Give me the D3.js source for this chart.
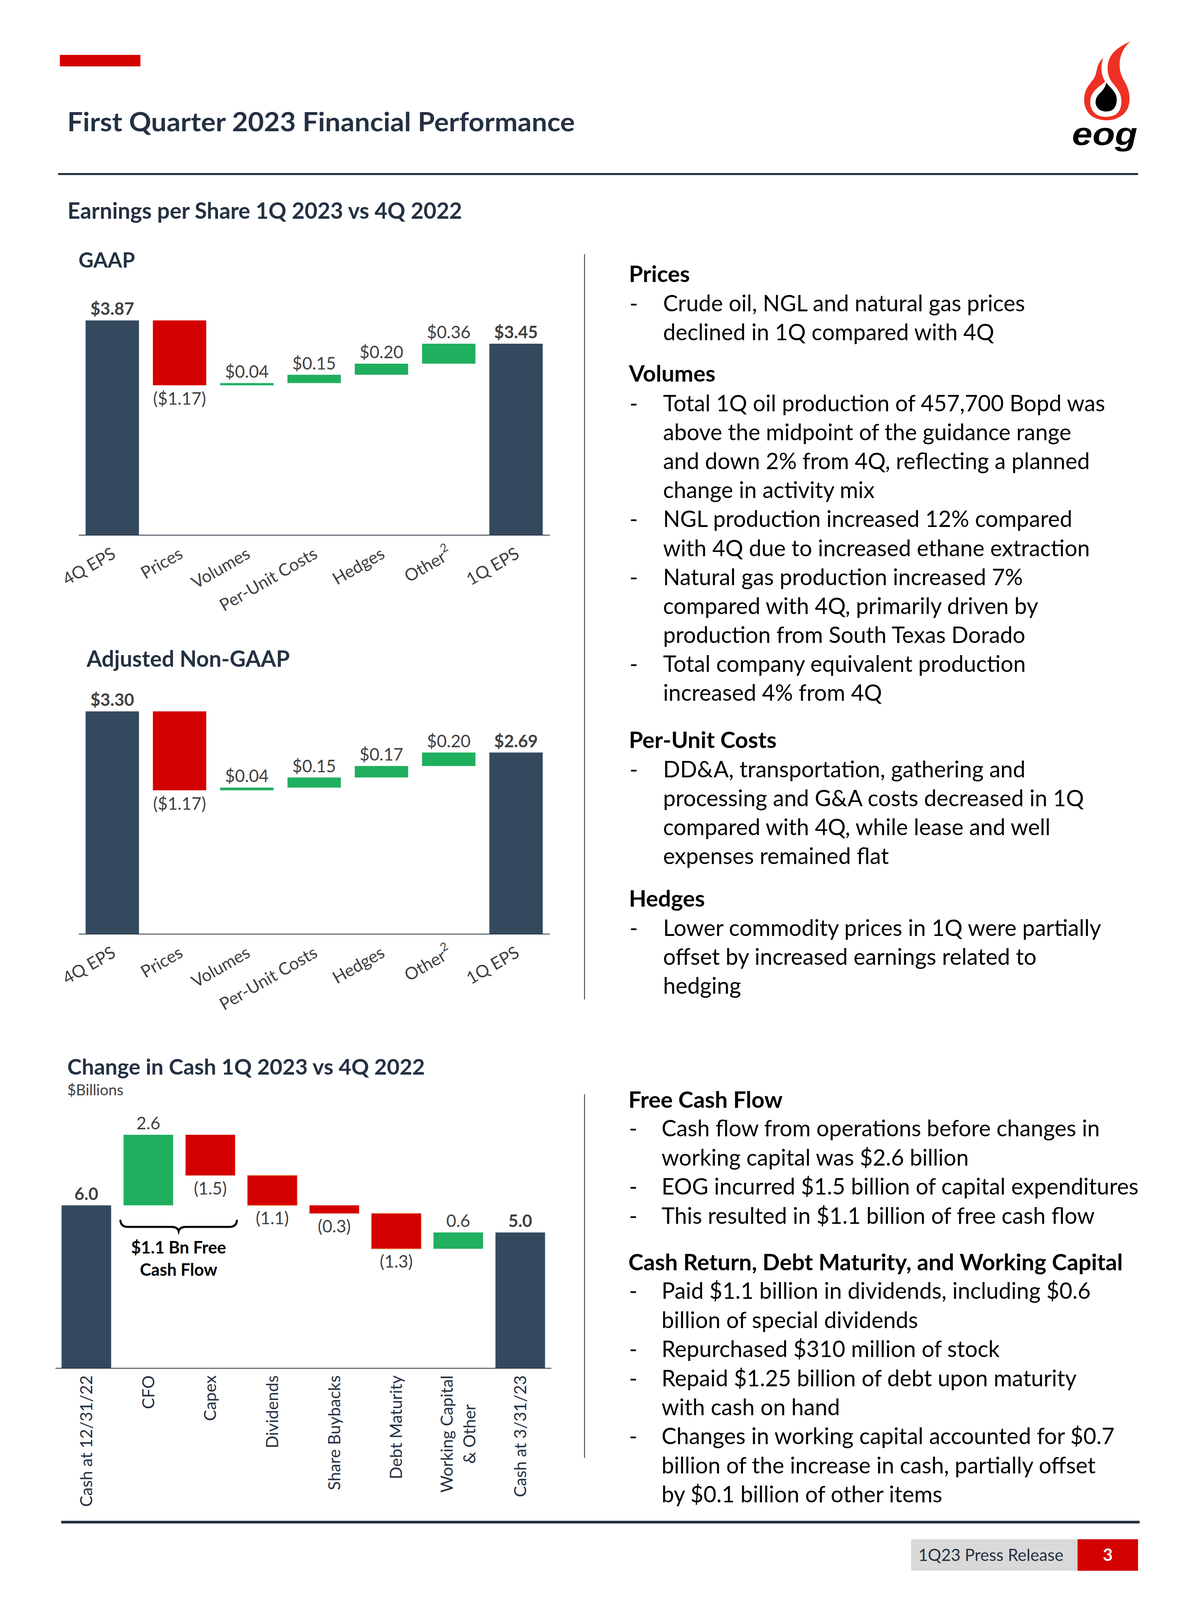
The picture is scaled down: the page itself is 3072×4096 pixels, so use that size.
<!DOCTYPE html>
<html><head><meta charset="utf-8">
<script src="https://cdn.jsdelivr.net/npm/d3@7"></script>
<style>html,body{margin:0;padding:0;background:#fff;overflow:hidden}svg{display:block}</style>
</head><body>
<svg id="c" width="3072" height="4096" xmlns="http://www.w3.org/2000/svg"></svg>
<script>
// ---------------- DATA ----------------
const epsCategories = ["4Q EPS","Prices","Volumes","Per-Unit Costs","Hedges","Other","1Q EPS"];
const epsSuperscripts = ["","","","","","2",""];
const epsKinds = ["total","delta","delta","delta","delta","delta","total"];
const gaapValues = [3.87,-1.17,0.04,0.15,0.20,0.36,3.45];
const gaapLabels = ["$3.87","($1.17)","$0.04","$0.15","$0.20","$0.36","$3.45"];
const adjValues = [3.30,-1.17,0.04,0.15,0.17,0.20,2.69];
const adjLabels = ["$3.30","($1.17)","$0.04","$0.15","$0.17","$0.20","$2.69"];

const cashCategories = [["Cash at 12/31/22"],["CFO"],["Capex"],["Dividends"],["Share Buybacks"],["Debt Maturity"],["Working Capital","& Other"],["Cash at 3/31/23"]];
const cashKinds = ["total","delta","delta","delta","delta","delta","delta","total"];
const cashValues = [6.0,2.6,-1.5,-1.1,-0.3,-1.3,0.6,5.0];
const cashLabels = ["6.0","2.6","(1.5)","(1.1)","(0.3)","(1.3)","0.6","5.0"];
const cashOutlined = [false,false,false,true,false,true,false,false];

const topHeadings = ["Prices","Volumes","Per-Unit Costs","Hedges"];
const topBullets = [
  [["Crude oil, NGL and natural gas prices","declined in 1Q compared with 4Q"]],
  [["Total 1Q oil production of 457,700 Bopd was","above the midpoint of the guidance range","and down 2% from 4Q, reflecting a planned","change in activity mix"],
   ["NGL production increased 12% compared","with 4Q due to increased ethane extraction"],
   ["Natural gas production increased 7%","compared with 4Q, primarily driven by","production from South Texas Dorado"],
   ["Total company equivalent production","increased 4% from 4Q"]],
  [["DD&A, transportation, gathering and","processing and G&A costs decreased in 1Q","compared with 4Q, while lease and well","expenses remained flat"]],
  [["Lower commodity prices in 1Q were partially","offset by increased earnings related to","hedging"]]
];
const bottomHeadings = ["Free Cash Flow","Cash Return, Debt Maturity, and Working Capital"];
const bottomBullets = [
  [["Cash flow from operations before changes in","working capital was $2.6 billion"],
   ["EOG incurred $1.5 billion of capital expenditures"],
   ["This resulted in $1.1 billion of free cash flow"]],
  [["Paid $1.1 billion in dividends, including $0.6","billion of special dividends"],
   ["Repurchased $310 million of stock"],
   ["Repaid $1.25 billion of debt upon maturity","with cash on hand"],
   ["Changes in working capital accounted for $0.7","billion of the increase in cash, partially offset","by $0.1 billion of other items"]]
];

// ---------------- STYLE ----------------
const FONT = "Lato, 'Open Sans', sans-serif";
const NAVY_TXT = "#243142", NAVY_BAR = "#34495E", RED = "#D40000", GREEN = "#1FAF5F", GREY_TXT = "#404040";
const BODY = 99.5, HEAD = 101, LAB = 76;

const svg = d3.select("#c");
const root = svg.append("g").attr("transform","scale(0.576)");  // work in reference pixels

function txt(p, x, y, s, o={}) {
  return p.append("text").attr("x",x).attr("y",y).text(s)
    .attr("font-family",FONT).attr("font-size",o.size||72)
    .attr("font-weight",o.weight||400).attr("fill",o.fill||"#000")
    .attr("text-anchor",o.anchor||"start");
}

// ---------------- HEADER ----------------
root.append("rect").attr("x",266).attr("y",244).attr("width",358).attr("height",51).attr("fill",RED);
txt(root,299,583,"First Quarter 2023 Financial Performance",{size:117,weight:700,fill:NAVY_TXT})
  .attr("textLength",2256).attr("lengthAdjust","spacingAndGlyphs");
root.append("rect").attr("x",258).attr("y",769).attr("width",4800).attr("height",9).attr("fill",NAVY_TXT);

// logo (drawn in a local 1568-per-600px frame)
const logo = root.append("g").attr("transform","translate(4600,150) scale(0.38265)");
logo.append("path").attr("fill","#EE3124").attr("d",
 "M790 282 C760 310 735 350 722 400 C712 445 705 490 680 525 C640 580 590 630 575 710 C560 800 580 890 650 950 C710 995 780 1008 850 1005 C950 1000 1030 950 1070 880 C1105 815 1105 720 1080 640 C1060 575 1020 530 1000 470 C975 400 978 320 1000 250 C1025 180 1065 120 1115 88 C1040 115 960 160 905 220 C870 260 855 300 850 330 L790 282 Z");
logo.append("path").attr("fill","#fff").attr("d",
 "M792 282 C778 320 770 370 772 420 C775 480 795 520 815 555 C770 600 690 640 655 720 C625 800 645 890 710 935 C770 975 870 975 935 940 C1000 900 1015 800 995 720 C975 650 920 600 885 550 C855 505 842 450 843 390 C845 320 870 265 910 220 C960 165 1040 115 1115 88 L1115 40 L792 40 Z");
logo.append("path").attr("fill","#000").attr("d",
 "M828 565 C850 600 900 640 930 690 C965 750 950 840 905 880 C860 915 780 910 735 870 C690 825 695 750 740 705 C780 665 815 630 828 565 Z");
logo.append("text").attr("x",430).attr("y",1290).text("eog")
  .attr("font-family","'Liberation Sans', Arial, sans-serif").attr("font-weight",700).attr("font-style","italic")
  .attr("font-size",370).attr("textLength",760).attr("lengthAdjust","spacingAndGlyphs").attr("fill","#000");

// ---------------- SECTION TITLES ----------------
txt(root,300,972,"Earnings per Share 1Q 2023 vs 4Q 2022",{size:98.5,weight:700,fill:NAVY_TXT});
txt(root,349,1189,"GAAP",{size:92,weight:700,fill:NAVY_TXT});
txt(root,385,2964,"Adjusted Non-GAAP",{size:98,weight:700,fill:NAVY_TXT});
txt(root,299,4776,"Change in Cash 1Q 2023 vs 4Q 2022",{size:97,weight:700,fill:NAVY_TXT});
txt(root,299,4868,"$Billions",{size:67,fill:GREY_TXT});

// ---------------- WATERFALL HELPERS ----------------
function steps(values, kinds){
  let run = 0;
  return values.map((v,i)=>{
    let a,b;
    if (kinds[i]==="total"){ a=0; b=v; run=v; }
    else { a=run; b=run+v; run=b; }
    return {i, v, lo:Math.min(a,b), hi:Math.max(a,b), neg: v<0 && kinds[i]!=="total", kind:kinds[i]};
  });
}
function barColor(d){ return d.kind==="total" ? NAVY_BAR : (d.neg ? RED : GREEN); }

function epsChart(values, labels, L){
  const g = root.append("g");
  const x = d3.scaleBand().domain(d3.range(epsCategories.length)).range([L.x0,L.x1]).paddingInner(0.207).paddingOuter(0.1035);
  const y = d3.scaleLinear().domain([0,L.yMax]).range([L.axisY,L.axisY-L.yMax*L.ppu]);
  const st = steps(values, epsKinds);
  g.selectAll("rect.bar").data(st).join("rect").attr("class","bar")
    .attr("x",d=>x(d.i)).attr("width",x.bandwidth())
    .attr("y",d=>y(d.hi)).attr("height",d=>Math.max(y(d.lo)-y(d.hi),0))
    .attr("fill",barColor);
  g.selectAll("text.lab").data(st).join("text").attr("class","lab")
    .attr("x",d=>x(d.i)+x.bandwidth()/2)
    .attr("y",d=>d.neg ? y(d.lo)+87 : y(d.hi)-24)
    .attr("text-anchor","middle").attr("font-family",FONT).attr("font-size",LAB)
    .attr("font-weight",d=>d.kind==="total"?700:400).attr("fill",GREY_TXT)
    .text(d=>labels[d.i]);
  const ax = g.append("g").attr("transform",`translate(0,${L.axisY})`)
    .call(d3.axisBottom(x).tickSize(0).tickSizeOuter(0).tickFormat(i=>epsCategories[i]));
  ax.select(".domain").attr("stroke",NAVY_TXT).attr("stroke-width",3.5);
  ax.selectAll(".tick text").each(function(i){
    const t = d3.select(this);
    t.text(null).attr("y",null).attr("dy",null)
     .attr("transform","translate(20,98) rotate(-30)")
     .attr("text-anchor","end").attr("font-family",FONT).attr("font-size",LAB).attr("fill",GREY_TXT);
    t.append("tspan").text(epsCategories[i]);
    if (epsSuperscripts[i]) t.append("tspan").attr("dy",-38).attr("font-size",52).text(epsSuperscripts[i]);
  });
}
epsChart(gaapValues, gaapLabels, {x0:349.5,x1:2443,axisY:2378,yMax:4.5,ppu:246.5});
epsChart(adjValues, adjLabels, {x0:349.5,x1:2443,axisY:4151,yMax:4.0,ppu:299.8});

// ---------------- CASH CHART ----------------
(function(){
  const L = {x0:246,x1:2450,axisY:6080.6,yMax:10,ppu:120.6};
  const g = root.append("g");
  const x = d3.scaleBand().domain(d3.range(cashCategories.length)).range([L.x0,L.x1]).paddingInner(0.2).paddingOuter(0.1);
  const y = d3.scaleLinear().domain([0,L.yMax]).range([L.axisY,L.axisY-L.yMax*L.ppu]);
  const st = steps(cashValues, cashKinds);
  g.selectAll("rect.bar").data(st).join("rect").attr("class","bar")
    .attr("x",d=>x(d.i)).attr("width",x.bandwidth())
    .attr("y",d=>y(d.hi)).attr("height",d=>Math.max(y(d.lo)-y(d.hi),0))
    .attr("fill",barColor)
    .attr("stroke",d=>cashOutlined[d.i]?"#E8742A":"none").attr("stroke-width",3);
  g.selectAll("text.lab").data(st).join("text").attr("class","lab")
    .attr("x",d=>x(d.i)+x.bandwidth()/2)
    .attr("y",d=>d.neg ? y(d.lo)+84 : y(d.hi)-24)
    .attr("text-anchor","middle").attr("font-family",FONT).attr("font-size",LAB)
    .attr("font-weight",d=>d.kind==="total"?700:400).attr("fill",GREY_TXT)
    .text(d=>cashLabels[d.i]);
  const ax = g.append("g").attr("transform",`translate(0,${L.axisY})`)
    .call(d3.axisBottom(x).tickSize(0).tickSizeOuter(0).tickFormat(i=>cashCategories[i][0]));
  ax.select(".domain").attr("stroke",NAVY_TXT).attr("stroke-width",3.5);
  ax.selectAll(".tick text").each(function(i){
    const t = d3.select(this);
    const lines = cashCategories[i];
    t.text(null).attr("y",null).attr("dy",null).attr("x",null)
     .attr("transform","translate(0,32) rotate(-90)")
     .attr("font-family",FONT).attr("font-size",74).attr("fill",NAVY_TXT);
    if (lines.length===1){
      t.attr("text-anchor","end").append("tspan").attr("x",0).attr("y",26).text(lines[0]);
    } else {
      t.attr("text-anchor","end").append("tspan").attr("x",0).attr("y",-24).text(lines[0]);
      const len = this.getComputedTextLength();
      t.append("tspan").attr("x",-len/2).attr("y",76).attr("text-anchor","middle").text(lines[1]);
    }
  });
  // free cash flow brace under CFO & Capex
  const bx0 = x(1)-14, bx1 = x(2)+x.bandwidth()+8, bm=(bx0+bx1)/2, by=5453;
  g.append("path").attr("fill","none").attr("stroke","#000").attr("stroke-width",9).attr("stroke-linecap","round")
    .attr("d",`M${bx0} ${by-28} Q${bx0+3} ${by} ${bx0+33} ${by} L${bm-32} ${by} Q${bm-5} ${by} ${bm} ${by+19} Q${bm+5} ${by} ${bm+32} ${by} L${bx1-33} ${by} Q${bx1-3} ${by} ${bx1} ${by-28}`);
  txt(g,bm,5572,"$1.1 Bn Free",{size:75,weight:700,anchor:"middle"});
  txt(g,bm,5671,"Cash Flow",{size:75,weight:700,anchor:"middle"});
})();

// ---------------- DIVIDERS ----------------
root.append("rect").attr("x",2596).attr("y",1129).attr("width",3.5).attr("height",4442-1129).attr("fill","#1F2D3D");
root.append("rect").attr("x",2596).attr("y",4863).attr("width",3.5).attr("height",6480-4863).attr("fill","#1F2D3D");

// ---------------- RIGHT COLUMN TEXT ----------------
function block(heads, bullets, headY, L){
  heads.forEach((h,k)=>{
    txt(root,L.hx,headY[k],h,{size:HEAD,weight:700});
    let yy = headY[k] + L.first;
    bullets[k].forEach(lines=>{
      txt(root,L.dx,yy,"-",{size:BODY});
      lines.forEach(s=>{ txt(root,L.tx,yy,s,{size:BODY}); yy += L.step; });
    });
  });
}
block(topHeadings, topBullets, [1253,1697,3324,4029], {hx:2795,dx:2798,tx:2947,first:131,step:128.7});
block(bottomHeadings, bottomBullets, [4923,5645], {hx:2793,dx:2796,tx:2940,first:128,step:129.2});

// ---------------- FOOTER ----------------
root.append("rect").attr("x",272).attr("y",6759).attr("width",4793).attr("height",12).attr("fill",NAVY_TXT);
root.append("rect").attr("x",4049).attr("y",6841).attr("width",740).attr("height",140).attr("fill","#D9D9D9");
root.append("rect").attr("x",4789).attr("y",6841).attr("width",269).attr("height",140).attr("fill",RED);
txt(root,4081,6938,"1Q23 Press Release",{size:74,fill:NAVY_TXT});
txt(root,4923.5,6938,"3",{size:76,weight:700,fill:"#fff",anchor:"middle"});
</script>
</body></html>
